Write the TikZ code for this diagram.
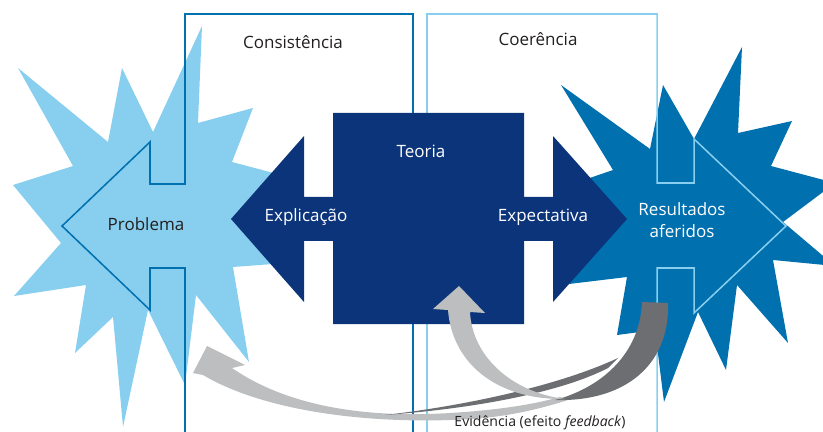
\documentclass[tikz,border=0pt]{standalone}
\usepackage{fontspec}
\setmainfont{Open Sans}
\definecolor{lightstar}{RGB}{136,207,239}
\definecolor{deepblue}{RGB}{0,112,175}
\definecolor{navy}{RGB}{11,52,122}
\definecolor{lightgrey}{RGB}{188,190,192}
\definecolor{darkgrey}{RGB}{109,110,113}
\definecolor{inkdark}{RGB}{35,31,32}

\begin{document}
\begin{tikzpicture}[
    x=0.03cm, y=-0.03cm,
    lbl/.style={font=\fontsize{14.5}{19}\selectfont, inner sep=0pt},
    darklbl/.style={lbl, anchor=base, text=inkdark},
    whitelbl/.style={lbl, anchor=base, text=white},
    frame/.style={line width=1.3pt, line join=miter},
]
\useasboundingbox (0,0) rectangle (823,432);
\clip (0,0) rectangle (823,432);

% Stars
\fill[lightstar] (18,68) -- (108,142) -- (122,68) -- (153,132) -- (202,26) -- (198,123)
    -- (253,108) -- (232,162) -- (300,180) -- (262,219) -- (300,262) -- (233,267)
    -- (249,362) -- (196,295) -- (185,385) -- (148,310) -- (123,427) -- (113,317)
    -- (75,353) -- (86,285) -- (14,296) -- (61,243) -- (13,185) -- (73,166) -- cycle;
\fill[deepblue] (561,85) -- (650,149) -- (663,85) -- (694,139) -- (742,47) -- (738,133)
    -- (792,121) -- (771,166) -- (835,183) -- (783,222) -- (835,266) -- (773,260)
    -- (788,343) -- (737,285) -- (726,370) -- (698,312) -- (664,402) -- (655,330)
    -- (617,335) -- (627,277) -- (569,284) -- (600,225) -- (578,182) -- (613,170) -- cycle;

% Frames
\draw[frame, deepblue] (185,440) -- (185,268) -- (150,268) -- (150,310) -- (62,226)
    -- (150,142) -- (150,184) -- (185,184) -- (185,14) -- (413,14) -- (413,440);
\draw[frame, lightstar] (427,440) -- (427,14) -- (657,14) -- (657,183) -- (694,183)
    -- (694,139) -- (786,226) -- (694,313) -- (694,268) -- (657,268) -- (657,440);

% Theory block
\fill[navy] (333,113) -- (524,113) -- (524,197) -- (553,197) -- (553,136) -- (627,219)
    -- (553,302) -- (553,241) -- (524,241) -- (524,324) -- (333,324) -- (333,241)
    -- (304,241) -- (304,302) -- (231,219) -- (304,136) -- (304,197) -- (333,197) -- cycle;

% Feedback arrows
\fill[lightgrey] (232,368) .. controls (290,408) and (370,418) .. (450,413)
    .. controls (500,410) and (535,404) .. (560,397) -- (568,400)
    .. controls (530,412) and (495,419) .. (450,420)
    .. controls (360,423) and (262,410) .. (203,375)
    -- (193,373) -- (207,346) -- (245,365) -- cycle;
\fill[darkgrey] (618,358) .. controls (560,385) and (470,405) .. (385,415)
    .. controls (470,409) and (560,393) .. (608,368) -- cycle;
\fill[darkgrey] (642,302) -- (668,303) .. controls (670,365) and (625,402) .. (555,400)
    .. controls (600,388) and (640,355) .. (642,302) -- cycle;
\fill[lightgrey] (470,312) -- (485,313) -- (459,286) -- (433,309) -- (448,310)
    .. controls (452,362) and (495,400) .. (565,399)
    .. controls (510,392) and (472,355) .. (470,312) -- cycle;

% Labels
\node[darklbl] (consist) at (293,49) {Consistência};
\node[darklbl] (coer) at (538,46) {Coerência};
\node[whitelbl] (teoria) at (421,158) {Teoria};
\node[whitelbl] (explic) at (306,222) {Explicação};
\node[whitelbl] (expect) at (543,222) {Expectativa};
\node[darklbl] (problema) at (146,231) {Problema};
\node[lbl, text=white, align=center] (result) at (682,220) {Resultados\\aferidos};
\node[darklbl, font=\fontsize{12}{15}\selectfont] (evid) at (540,426) {Evidência (efeito \textit{feedback})};

\end{tikzpicture}
\end{document}
